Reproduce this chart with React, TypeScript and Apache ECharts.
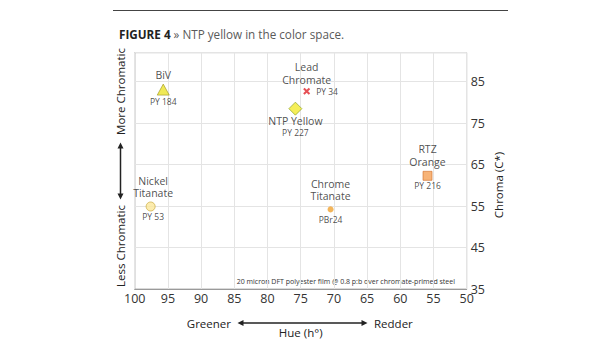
import React, { useEffect, useRef } from 'react';
import * as echarts from 'echarts';

// ---- data ----
const pigmentNames = ['BiV', 'Lead\nChromate', 'NTP Yellow', 'RTZ\nOrange', 'Chrome\nTitanate', 'Nickel\nTitanate'];
const pigmentCodes = ['PY 184', 'PY 34', 'PY 227', 'PY 216', 'PBr24', 'PY 53'];
const hueValues = [95.7, 74.1, 75.8, 55.9, 70.5, 97.6];
const chromaValues = [83.1, 82.7, 78.5, 62.3, 54.2, 54.9];
const hueRange = [50, 100];
const chromaRange = [35, 92];

const titleBold = 'FIGURE 4';
const titleRest = '» NTP yellow in the color space.';
const noteText = '20 micron DFT polyester film @ 0.8 p:b over chromate-primed steel';

// ---- styles (per point, by index) ----
const X_PATH = 'path://M0,2 L2,0 L5,3 L8,0 L10,2 L7,5 L10,8 L8,10 L5,7 L2,10 L0,8 L3,5 Z';
const looks = [
  { symbol: 'triangle', size: [12, 11], color: '#ece32c', border: '#9c9420', bw: 0.8, nameAt: 'top', nameGap: 2, nameLH: 12.5, codeAt: 'bottom', codeGap: 1, dx: 0 },
  { symbol: X_PATH, size: 7, color: '#e0242a', border: '#e0242a', bw: 0, nameAt: 'top', nameGap: 2, nameLH: 12.5, codeAt: 'right', codeGap: 6, dx: 0 },
  { symbol: 'diamond', size: 13, color: '#f2ea2e', border: '#8ea52a', bw: 0.9, nameAt: 'bottom', nameGap: 0, nameLH: 11, codeAt: 'bottom', codeGap: 12.5, dx: 0 },
  { symbol: 'rect', size: 9, color: '#f5a055', border: '#d2722a', bw: 0.8, nameAt: 'top', nameGap: 3, nameLH: 12.5, codeAt: 'bottom', codeGap: 0, dx: 0 },
  { symbol: 'circle', size: 6, color: '#f0a232', border: '#f0a232', bw: 0, nameAt: 'top', nameGap: 4, nameLH: 12.5, codeAt: 'bottom', codeGap: 2, dx: 0 },
  { symbol: 'circle', size: 9, color: '#fbe79a', border: '#c9a93c', bw: 0.9, nameAt: 'top', nameGap: 2, nameLH: 12.5, codeAt: 'bottom', codeGap: 0, dx: 2.5 },
];

const FONT = '"Open Sans", "Noto Sans", sans-serif';

export default function App() {
  const ref = useRef<HTMLDivElement>(null);

  useEffect(() => {
    if (!ref.current) return;
    const chart = echarts.init(ref.current, null, { renderer: 'svg' });

    const markerData = hueValues.map((h, i) => {
      const lk = looks[i];
      return {
        value: [h, chromaValues[i]],
        symbol: lk.symbol,
        symbolSize: lk.size,
        itemStyle: { color: lk.color, borderColor: lk.border, borderWidth: lk.bw },
        label: {
          show: true,
          position: lk.nameAt,
          distance: lk.nameGap,
          offset: [lk.dx, 0],
          formatter: pigmentNames[i],
          fontFamily: FONT,
          fontSize: 10.5,
          lineHeight: lk.nameLH,
          color: '#222',
          align: 'center',
        },
      };
    });

    const codeData = hueValues.map((h, i) => {
      const lk = looks[i];
      return {
        value: [h, chromaValues[i]],
        symbol: lk.symbol,
        symbolSize: lk.size,
        itemStyle: { color: 'rgba(0,0,0,0)', borderWidth: 0 },
        label: {
          show: true,
          position: lk.codeAt,
          distance: lk.codeGap,
          offset: [lk.dx, 0],
          formatter: pigmentCodes[i],
          fontFamily: FONT,
          fontSize: 8.5,
          lineHeight: 10,
          color: '#222',
        },
      };
    });

    const arrowColor = '#222';
    chart.setOption({
      animation: false,
      backgroundColor: '#fff',
      textStyle: { fontFamily: FONT },
      title: {
        left: 114,
        top: 21,
        text: `{b|${titleBold}} {g|${titleRest}}`,
        textStyle: {
          fontWeight: 'normal',
          fontSize: 11.7,
          lineHeight: 15,
          rich: {
            b: { fontFamily: FONT, fontWeight: 'bold', fontSize: 11.7, lineHeight: 15, color: '#222' },
            g: { fontFamily: FONT, fontWeight: 'normal', fontSize: 11.7, lineHeight: 15, color: '#5a5a5a' },
          },
        },
      },
      grid: {
        left: 134.7,
        top: 52.7,
        right: 615 - 466.7,
        bottom: 350 - 289,
        show: true,
        borderColor: '#b4b4b4',
        borderWidth: 1,
      },
      xAxis: {
        type: 'value',
        min: hueRange[0],
        max: hueRange[1],
        interval: 5,
        inverse: true,
        name: 'Hue (h°)',
        nameLocation: 'middle',
        nameGap: 37,
        nameTextStyle: { fontFamily: FONT, fontSize: 11.5, color: '#222' },
        axisLine: { show: true, lineStyle: { color: '#9a9a9a', width: 1 } },
        axisTick: { show: false },
        axisLabel: { margin: 3, fontFamily: FONT, fontSize: 12.5, color: '#333' },
        splitLine: { show: true, lineStyle: { color: '#e4e4e4', width: 1 } },
      },
      yAxis: {
        type: 'value',
        position: 'right',
        min: chromaRange[0],
        max: chromaRange[1],
        interval: 10,
        axisLine: { show: false },
        axisTick: { show: false },
        axisLabel: { margin: 4, fontFamily: FONT, fontSize: 12.5, color: '#333', showMaxLabel: false },
        splitLine: { show: true, lineStyle: { color: '#e4e4e4', width: 1 } },
      },
      graphic: [
        { type: 'line', shape: { x1: 113, y1: 10.5, x2: 508, y2: 10.5 }, style: { stroke: '#444', lineWidth: 1 } },
        // left vertical axis line (darker)
        { type: 'line', shape: { x1: 134.7, y1: 52.7, x2: 134.7, y2: 289 }, style: { stroke: '#9a9a9a', lineWidth: 1 } },
        {
          type: 'text', x: 498, y: 185, rotation: Math.PI / 2,
          style: { text: 'Chroma (C*)', fontFamily: FONT, fontSize: 11.5, fill: '#222', align: 'center', verticalAlign: 'middle' },
        },
        {
          type: 'text', x: 120.5, y: 91.5, rotation: Math.PI / 2,
          style: { text: 'More Chromatic', fontFamily: FONT, fontSize: 11.5, fill: '#222', align: 'center', verticalAlign: 'middle' },
        },
        {
          type: 'text', x: 120.5, y: 246, rotation: Math.PI / 2,
          style: { text: 'Less Chromatic', fontFamily: FONT, fontSize: 11.5, fill: '#222', align: 'center', verticalAlign: 'middle' },
        },
        // vertical arrow
        { type: 'line', shape: { x1: 120.5, y1: 146, x2: 120.5, y2: 196 }, style: { stroke: arrowColor, lineWidth: 1.5 } },
        { type: 'polygon', shape: { points: [[120.5, 142.5], [117.5, 148.5], [123.5, 148.5]] }, style: { fill: arrowColor } },
        { type: 'polygon', shape: { points: [[120.5, 199.5], [117.5, 193.5], [123.5, 193.5]] }, style: { fill: arrowColor } },
        // horizontal arrow
        { type: 'line', shape: { x1: 241, y1: 323, x2: 364, y2: 323 }, style: { stroke: arrowColor, lineWidth: 1.5 } },
        { type: 'polygon', shape: { points: [[237.5, 323], [243.5, 320], [243.5, 326]] }, style: { fill: arrowColor } },
        { type: 'polygon', shape: { points: [[367.5, 323], [361.5, 320], [361.5, 326]] }, style: { fill: arrowColor } },
        {
          type: 'text', x: 231, y: 323,
          style: { text: 'Greener', fontFamily: FONT, fontSize: 11.5, fill: '#222', align: 'right', verticalAlign: 'middle' },
        },
        {
          type: 'text', x: 374, y: 323,
          style: { text: 'Redder', fontFamily: FONT, fontSize: 11.5, fill: '#222', align: 'left', verticalAlign: 'middle' },
        },
        {
          type: 'text', x: 455, y: 281.5,
          style: { text: noteText, fontFamily: FONT, fontSize: 7, fill: '#333', align: 'right', verticalAlign: 'middle' },
        },
      ],
      series: [
        { type: 'scatter', name: 'pigments', data: markerData, z: 3 },
        { type: 'scatter', name: 'codes', data: codeData, z: 4, silent: true },
      ],
    });

    return () => chart.dispose();
  }, []);

  return (
    <div
      ref={ref}
      style={{ position: 'absolute', left: 0, top: 0, width: 615, height: 350, background: '#fff' }}
    />
  );
}
